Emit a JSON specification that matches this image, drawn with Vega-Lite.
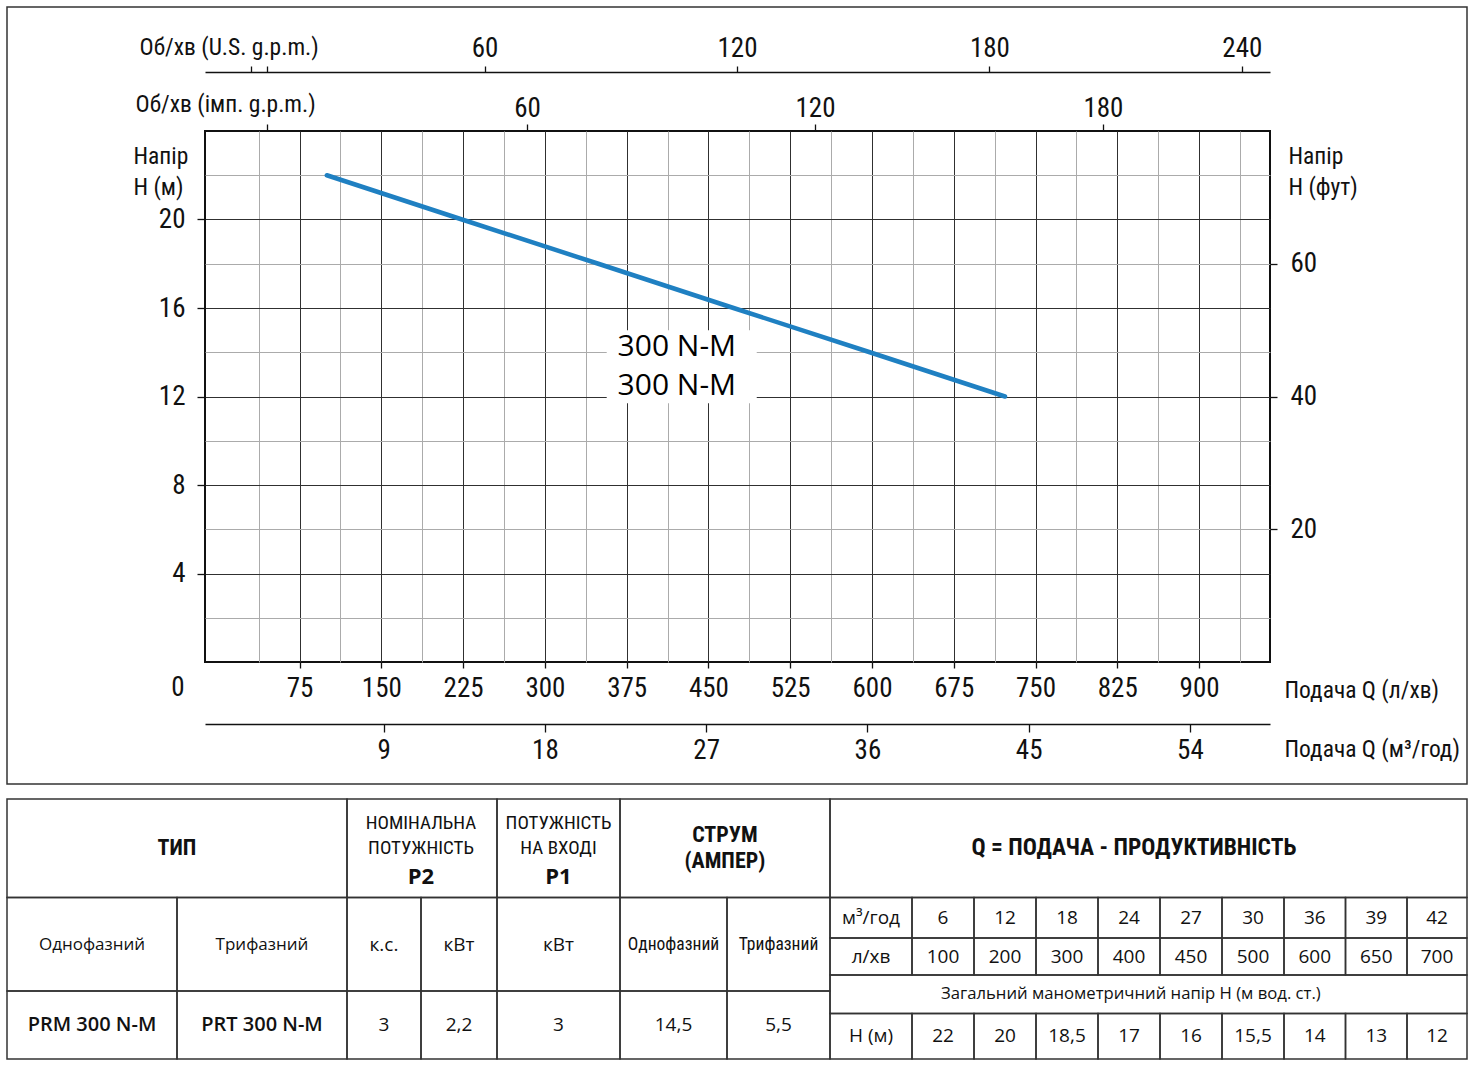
{
  "$schema": "https://vega.github.io/schema/vega-lite/v6.json",
  "width": 1065,
  "height": 531,
  "autosize": {"type": "none"},
  "padding": {"left": 205, "top": 131, "right": 204, "bottom": 405},
  "background": "white",
  "datasets": {
    "curve": [
      {"lpm": 100, "H": 22, "gpm_us": 26.4, "gpm_imp": 22.0, "m3h": 6.0, "H_ft": 72.2},
      {"lpm": 224, "H": 20, "gpm_us": 59.2, "gpm_imp": 49.3, "m3h": 13.4, "H_ft": 65.6},
      {"lpm": 349, "H": 18, "gpm_us": 92.2, "gpm_imp": 76.8, "m3h": 20.9, "H_ft": 59.1},
      {"lpm": 473, "H": 16, "gpm_us": 125.0, "gpm_imp": 104.0, "m3h": 28.4, "H_ft": 52.5},
      {"lpm": 598, "H": 14, "gpm_us": 158.0, "gpm_imp": 131.5, "m3h": 35.9, "H_ft": 45.9},
      {"lpm": 722, "H": 12, "gpm_us": 190.8, "gpm_imp": 158.8, "m3h": 43.3, "H_ft": 39.4}
    ],
    "labels": [
      {"lpm": 421, "H": 14.24, "label": "300 N-M"},
      {"lpm": 421, "H": 12.48, "label": "300 N-M"}
    ],
    "cells": [
      {"c0": 0, "c1": 17, "r0": 0, "r1": 1},
      {"c0": 0, "c1": 2, "r0": 2, "r1": 3},
      {"c0": 2, "c1": 4, "r0": 2, "r1": 3},
      {"c0": 4, "c1": 5, "r0": 2, "r1": 3},
      {"c0": 5, "c1": 7, "r0": 2, "r1": 3},
      {"c0": 7, "c1": 17, "r0": 2, "r1": 3},
      {"c0": 0, "c1": 1, "r0": 3, "r1": 6},
      {"c0": 1, "c1": 2, "r0": 3, "r1": 6},
      {"c0": 2, "c1": 3, "r0": 3, "r1": 6},
      {"c0": 3, "c1": 4, "r0": 3, "r1": 6},
      {"c0": 4, "c1": 5, "r0": 3, "r1": 6},
      {"c0": 5, "c1": 6, "r0": 3, "r1": 6},
      {"c0": 6, "c1": 7, "r0": 3, "r1": 6},
      {"c0": 0, "c1": 1, "r0": 6, "r1": 8},
      {"c0": 1, "c1": 2, "r0": 6, "r1": 8},
      {"c0": 2, "c1": 3, "r0": 6, "r1": 8},
      {"c0": 3, "c1": 4, "r0": 6, "r1": 8},
      {"c0": 4, "c1": 5, "r0": 6, "r1": 8},
      {"c0": 5, "c1": 6, "r0": 6, "r1": 8},
      {"c0": 6, "c1": 7, "r0": 6, "r1": 8},
      {"c0": 7, "c1": 8, "r0": 3, "r1": 4},
      {"c0": 8, "c1": 9, "r0": 3, "r1": 4},
      {"c0": 9, "c1": 10, "r0": 3, "r1": 4},
      {"c0": 10, "c1": 11, "r0": 3, "r1": 4},
      {"c0": 11, "c1": 12, "r0": 3, "r1": 4},
      {"c0": 12, "c1": 13, "r0": 3, "r1": 4},
      {"c0": 13, "c1": 14, "r0": 3, "r1": 4},
      {"c0": 14, "c1": 15, "r0": 3, "r1": 4},
      {"c0": 15, "c1": 16, "r0": 3, "r1": 4},
      {"c0": 16, "c1": 17, "r0": 3, "r1": 4},
      {"c0": 7, "c1": 8, "r0": 4, "r1": 5},
      {"c0": 8, "c1": 9, "r0": 4, "r1": 5},
      {"c0": 9, "c1": 10, "r0": 4, "r1": 5},
      {"c0": 10, "c1": 11, "r0": 4, "r1": 5},
      {"c0": 11, "c1": 12, "r0": 4, "r1": 5},
      {"c0": 12, "c1": 13, "r0": 4, "r1": 5},
      {"c0": 13, "c1": 14, "r0": 4, "r1": 5},
      {"c0": 14, "c1": 15, "r0": 4, "r1": 5},
      {"c0": 15, "c1": 16, "r0": 4, "r1": 5},
      {"c0": 16, "c1": 17, "r0": 4, "r1": 5},
      {"c0": 7, "c1": 17, "r0": 5, "r1": 7},
      {"c0": 7, "c1": 8, "r0": 7, "r1": 8},
      {"c0": 8, "c1": 9, "r0": 7, "r1": 8},
      {"c0": 9, "c1": 10, "r0": 7, "r1": 8},
      {"c0": 10, "c1": 11, "r0": 7, "r1": 8},
      {"c0": 11, "c1": 12, "r0": 7, "r1": 8},
      {"c0": 12, "c1": 13, "r0": 7, "r1": 8},
      {"c0": 13, "c1": 14, "r0": 7, "r1": 8},
      {"c0": 14, "c1": 15, "r0": 7, "r1": 8},
      {"c0": 15, "c1": 16, "r0": 7, "r1": 8},
      {"c0": 16, "c1": 17, "r0": 7, "r1": 8}
    ],
    "texts": [
      {"cx": 1, "cy": 2.5, "t": "ТИП", "role": "hb"},
      {"cx": 3, "cy": 2.244, "t": "НОМІНАЛЬНА\nПОТУЖНІСТЬ", "role": "hs"},
      {"cx": 3, "cy": 2.79, "t": "P2", "role": "hp"},
      {"cx": 4.5, "cy": 2.244, "t": "ПОТУЖНІСТЬ\nНА ВХОДІ", "role": "hs"},
      {"cx": 4.5, "cy": 2.79, "t": "P1", "role": "hp"},
      {"cx": 5.98, "cy": 2.365, "t": "СТРУМ\n(АМПЕР)", "role": "hb"},
      {"cx": 11.58, "cy": 2.5, "t": "Q = ПОДАЧА - ПРОДУКТИВНІСТЬ", "role": "hq"},
      {"cx": 0.5, "cy": 4.19, "t": "Однофазний", "role": "sub"},
      {"cx": 1.5, "cy": 4.19, "t": "Трифазний", "role": "sub"},
      {"cx": 2.5, "cy": 4.19, "t": "к.с.", "role": "unit"},
      {"cx": 3.5, "cy": 4.19, "t": "кВт", "role": "unit"},
      {"cx": 4.5, "cy": 4.19, "t": "кВт", "role": "unit"},
      {"cx": 5.5, "cy": 4.19, "t": "Однофазний", "role": "subn"},
      {"cx": 6.5, "cy": 4.19, "t": "Трифазний", "role": "subn"},
      {"cx": 0.5, "cy": 7.25, "t": "PRM 300 N-M", "role": "model"},
      {"cx": 1.5, "cy": 7.25, "t": "PRT 300 N-M", "role": "model"},
      {"cx": 2.5, "cy": 7.25, "t": "3", "role": "val"},
      {"cx": 3.5, "cy": 7.25, "t": "2,2", "role": "val"},
      {"cx": 4.5, "cy": 7.25, "t": "3", "role": "val"},
      {"cx": 5.5, "cy": 7.25, "t": "14,5", "role": "val"},
      {"cx": 6.5, "cy": 7.25, "t": "5,5", "role": "val"},
      {"cx": 7.5, "cy": 3.5, "t": "м³/год", "role": "q"},
      {"cx": 8.5, "cy": 3.5, "t": "6", "role": "q"},
      {"cx": 9.5, "cy": 3.5, "t": "12", "role": "q"},
      {"cx": 10.5, "cy": 3.5, "t": "18", "role": "q"},
      {"cx": 11.5, "cy": 3.5, "t": "24", "role": "q"},
      {"cx": 12.5, "cy": 3.5, "t": "27", "role": "q"},
      {"cx": 13.5, "cy": 3.5, "t": "30", "role": "q"},
      {"cx": 14.5, "cy": 3.5, "t": "36", "role": "q"},
      {"cx": 15.5, "cy": 3.5, "t": "39", "role": "q"},
      {"cx": 16.5, "cy": 3.5, "t": "42", "role": "q"},
      {"cx": 7.5, "cy": 4.5, "t": "л/хв", "role": "q"},
      {"cx": 8.5, "cy": 4.5, "t": "100", "role": "q"},
      {"cx": 9.5, "cy": 4.5, "t": "200", "role": "q"},
      {"cx": 10.5, "cy": 4.5, "t": "300", "role": "q"},
      {"cx": 11.5, "cy": 4.5, "t": "400", "role": "q"},
      {"cx": 12.5, "cy": 4.5, "t": "450", "role": "q"},
      {"cx": 13.5, "cy": 4.5, "t": "500", "role": "q"},
      {"cx": 14.5, "cy": 4.5, "t": "600", "role": "q"},
      {"cx": 15.5, "cy": 4.5, "t": "650", "role": "q"},
      {"cx": 16.5, "cy": 4.5, "t": "700", "role": "q"},
      {"cx": 11.53, "cy": 6.15, "t": "Загальний манометричний напір Н (м вод. ст.)", "role": "qs"},
      {"cx": 7.5, "cy": 7.5, "t": "Н (м)", "role": "q"},
      {"cx": 8.5, "cy": 7.5, "t": "22", "role": "q"},
      {"cx": 9.5, "cy": 7.5, "t": "20", "role": "q"},
      {"cx": 10.5, "cy": 7.5, "t": "18,5", "role": "q"},
      {"cx": 11.5, "cy": 7.5, "t": "17", "role": "q"},
      {"cx": 12.5, "cy": 7.5, "t": "16", "role": "q"},
      {"cx": 13.5, "cy": 7.5, "t": "15,5", "role": "q"},
      {"cx": 14.5, "cy": 7.5, "t": "14", "role": "q"},
      {"cx": 15.5, "cy": 7.5, "t": "13", "role": "q"},
      {"cx": 16.5, "cy": 7.5, "t": "12", "role": "q"}
    ]
  },
  "layer": [
    {
      "data": {"name": "curve"},
      "mark": {"type": "line", "opacity": 0},
      "encoding": {
        "x": {"field": "lpm", "type": "quantitative", "scale": {"domain": [-11.74, 965.06], "nice": false, "zero": false},
          "axis": {"orient": "bottom", "values": [37.5, 112.5, 187.5, 262.5, 337.5, 412.5, 487.5, 562.5, 637.5, 712.5, 787.5, 862.5, 937.5], "grid": true, "gridColor": "#ababab", "labels": false, "ticks": false, "domain": false, "title": null}},
        "y": {"field": "H", "type": "quantitative", "scale": {"domain": [0, 24], "nice": false, "zero": false},
          "axis": {"orient": "left", "values": [2, 6, 10, 14, 18, 22], "grid": true, "gridColor": "#ababab", "labels": false, "ticks": false, "domain": false, "title": null}}
      }
    },
    {
      "data": {"values": [{}]},
      "mark": {"type": "rect", "fill": "white", "stroke": null},
      "encoding": {
        "x": {"datum": 356.7, "type": "quantitative", "scale": {"domain": [-11.74, 965.06], "nice": false, "zero": false}, "axis": null},
        "x2": {"datum": 494.3},
        "y": {"datum": 15.0, "type": "quantitative", "scale": {"domain": [0, 24], "nice": false, "zero": false}, "axis": null},
        "y2": {"datum": 11.7}
      }
    },
    {
      "data": {"name": "labels"},
      "mark": {"type": "text", "font": "Open Sans", "fontSize": 30, "fontWeight": 500, "color": "#000", "baseline": "middle", "align": "center"},
      "encoding": {
        "x": {"field": "lpm", "type": "quantitative", "scale": {"domain": [-11.74, 965.06], "nice": false, "zero": false}, "axis": null},
        "y": {"field": "H", "type": "quantitative", "scale": {"domain": [0, 24], "nice": false, "zero": false}, "axis": null},
        "text": {"field": "label"}
      }
    },
    {
      "data": {"values": [{}]},
      "mark": {"type": "text", "text": "0", "font": "Liberation Sans Narrow, Roboto Condensed, DejaVu Sans Condensed, Liberation Sans", "fontSize": 27, "color": "#111", "baseline": "middle", "align": "center", "dx": -27, "dy": 26},
      "encoding": {
        "x": {"datum": -11.74, "type": "quantitative", "scale": {"domain": [-11.74, 965.06], "nice": false, "zero": false}, "axis": null},
        "y": {"datum": 0, "type": "quantitative", "scale": {"domain": [0, 24], "nice": false, "zero": false}, "axis": null}
      }
    },
    {
      "data": {"name": "curve"},
      "mark": {"type": "rule", "opacity": 0},
      "encoding": {
        "x": {"field": "gpm_us", "type": "quantitative", "scale": {"domain": [-6.47, 246.7], "nice": false, "zero": false},
          "axis": {"orient": "top", "offset": 59, "values": [4.47, 8.27, 60, 120, 180, 240], "labelExpr": "datum.value < 30 ? '' : datum.label", "grid": false, "domain": true, "tickSize": 6, "labelPadding": 10, "labelBaseline": "alphabetic",
            "title": "Об/хв (U.S. g.p.m.)", "titleX": -66, "titleY": -24.5, "titleAlign": "left", "titleBaseline": "middle", "titleAngle": 0}}
      }
    },
    {
      "data": {"name": "curve"},
      "mark": {"type": "rule", "opacity": 0},
      "encoding": {
        "x": {"field": "gpm_imp", "type": "quantitative", "scale": {"domain": [-7.08, 214.8], "nice": false, "zero": false},
          "axis": {"orient": "top", "offset": 0, "values": [5.83, 60, 120, 180], "labelExpr": "datum.value < 30 ? '' : datum.label", "grid": false, "domain": false, "tickSize": 7, "labelPadding": 8, "labelBaseline": "alphabetic",
            "title": "Об/хв (імп. g.p.m.)", "titleX": -70, "titleY": -26.5, "titleAlign": "left", "titleBaseline": "middle", "titleAngle": 0}}
      }
    },
    {
      "data": {"name": "curve"},
      "mark": {"type": "rule", "opacity": 0},
      "encoding": {
        "x": {"field": "m3h", "type": "quantitative", "scale": {"domain": [-0.97, 58.47], "nice": false, "zero": false},
          "axis": {"orient": "bottom", "offset": 62, "values": [9, 18, 27, 36, 45, 54], "grid": false, "domain": true, "tickSize": 8, "labelPadding": 26, "labelBaseline": "alphabetic",
            "title": "Подача Q (м³/год)", "titleX": 1079, "titleY": 25.5, "titleAlign": "left", "titleBaseline": "middle", "titleAngle": 0}}
      }
    },
    {
      "data": {"name": "curve"},
      "mark": {"type": "rule", "opacity": 0},
      "encoding": {
        "y": {"field": "H_ft", "type": "quantitative", "scale": {"domain": [0, 80], "nice": false, "zero": false},
          "axis": {"orient": "right", "values": [20, 40, 60], "grid": false, "domain": false, "tickSize": 7, "labelPadding": 13, "labelBaseline": "middle",
            "title": ["Напір", "Н (фут)"], "titleX": 18, "titleY": 13, "titleAlign": "left", "titleBaseline": "top", "titleAngle": 0, "titleLineHeight": 31}}
      }
    },
    {
      "data": {"name": "curve"},
      "mark": {"type": "line", "color": "#1f80c2", "strokeWidth": 4.5, "strokeCap": "round"},
      "encoding": {
        "x": {"field": "lpm", "type": "quantitative", "scale": {"domain": [-11.74, 965.06], "nice": false, "zero": false},
          "axis": {"orient": "bottom", "values": [75, 150, 225, 300, 375, 450, 525, 600, 675, 750, 825, 900], "grid": true, "gridColor": "#303030", "domain": false, "tickSize": 6, "labelPadding": 28, "labelBaseline": "alphabetic",
            "title": "Подача Q (л/хв)", "titleX": 1079, "titleY": 28.5, "titleAlign": "left", "titleBaseline": "middle", "titleAngle": 0}},
        "y": {"field": "H", "type": "quantitative", "scale": {"domain": [0, 24], "nice": false, "zero": false},
          "axis": {"orient": "left", "values": [4, 8, 12, 16, 20], "grid": true, "gridColor": "#303030", "domain": false, "tickSize": 8, "labelPadding": 12, "labelBaseline": "middle",
            "title": ["Напір", "Н (м)"], "titleX": -72, "titleY": 13, "titleAlign": "left", "titleBaseline": "top", "titleAngle": 0, "titleLineHeight": 31}}
      }
    },
    {
      "data": {"name": "cells"},
      "mark": {"type": "rect", "fill": "transparent", "stroke": "#333", "strokeWidth": 1.5},
      "encoding": {
        "x": {"field": "c0", "type": "quantitative", "scale": {"domain": [0,1,2,3,4,5,6,7,8,9,10,11,12,13,14,15,16,17], "range": [-198,-28,142,216,292,415,522,625,707,769,831,893,955,1017,1079,1140.5,1202,1262], "nice": false, "zero": false}, "axis": null},
        "x2": {"field": "c1"},
        "y": {"field": "r0", "type": "quantitative", "scale": {"domain": [0,1,2,3,4,5,6,7,8], "range": [-124,653,668,766.5,807,844,860,882.5,928], "nice": false, "zero": false}, "axis": null},
        "y2": {"field": "r1"}
      }
    },
    {
      "data": {"name": "texts"},
      "transform": [{"filter": "datum.role === 'hb'"}],
      "mark": {"type": "text", "font": "Liberation Sans Narrow, Roboto Condensed, DejaVu Sans Condensed, Liberation Sans", "fontWeight": "bold", "fontSize": 22, "lineBreak": "\n", "lineHeight": 26, "baseline": "middle", "align": "center", "color": "#111"},
      "encoding": {
        "x": {"field": "cx", "type": "quantitative", "scale": {"domain": [0,1,2,3,4,5,6,7,8,9,10,11,12,13,14,15,16,17], "range": [-198,-28,142,216,292,415,522,625,707,769,831,893,955,1017,1079,1140.5,1202,1262], "nice": false, "zero": false}, "axis": null},
        "y": {"field": "cy", "type": "quantitative", "scale": {"domain": [0,1,2,3,4,5,6,7,8], "range": [-124,653,668,766.5,807,844,860,882.5,928], "nice": false, "zero": false}, "axis": null},
        "text": {"field": "t"}
      }
    },
    {
      "data": {"name": "texts"},
      "transform": [{"filter": "datum.role === 'hq'"}],
      "mark": {"type": "text", "font": "Liberation Sans Narrow, Roboto Condensed, DejaVu Sans Condensed, Liberation Sans", "fontWeight": "bold", "fontSize": 23.5, "baseline": "middle", "align": "center", "color": "#111"},
      "encoding": {
        "x": {"field": "cx", "type": "quantitative", "scale": {"domain": [0,1,2,3,4,5,6,7,8,9,10,11,12,13,14,15,16,17], "range": [-198,-28,142,216,292,415,522,625,707,769,831,893,955,1017,1079,1140.5,1202,1262], "nice": false, "zero": false}, "axis": null},
        "y": {"field": "cy", "type": "quantitative", "scale": {"domain": [0,1,2,3,4,5,6,7,8], "range": [-124,653,668,766.5,807,844,860,882.5,928], "nice": false, "zero": false}, "axis": null},
        "text": {"field": "t"}
      }
    },
    {
      "data": {"name": "texts"},
      "transform": [{"filter": "datum.role === 'hs'"}],
      "mark": {"type": "text", "font": "Liberation Sans Narrow, Roboto Condensed, DejaVu Sans Condensed, Liberation Sans", "fontSize": 19, "lineBreak": "\n", "lineHeight": 25, "baseline": "middle", "align": "center", "color": "#111"},
      "encoding": {
        "x": {"field": "cx", "type": "quantitative", "scale": {"domain": [0,1,2,3,4,5,6,7,8,9,10,11,12,13,14,15,16,17], "range": [-198,-28,142,216,292,415,522,625,707,769,831,893,955,1017,1079,1140.5,1202,1262], "nice": false, "zero": false}, "axis": null},
        "y": {"field": "cy", "type": "quantitative", "scale": {"domain": [0,1,2,3,4,5,6,7,8], "range": [-124,653,668,766.5,807,844,860,882.5,928], "nice": false, "zero": false}, "axis": null},
        "text": {"field": "t"}
      }
    },
    {
      "data": {"name": "texts"},
      "transform": [{"filter": "datum.role === 'subn'"}],
      "mark": {"type": "text", "font": "Liberation Sans Narrow, Roboto Condensed, DejaVu Sans Condensed, Liberation Sans", "fontSize": 17.5, "baseline": "middle", "align": "center", "color": "#111"},
      "encoding": {
        "x": {"field": "cx", "type": "quantitative", "scale": {"domain": [0,1,2,3,4,5,6,7,8,9,10,11,12,13,14,15,16,17], "range": [-198,-28,142,216,292,415,522,625,707,769,831,893,955,1017,1079,1140.5,1202,1262], "nice": false, "zero": false}, "axis": null},
        "y": {"field": "cy", "type": "quantitative", "scale": {"domain": [0,1,2,3,4,5,6,7,8], "range": [-124,653,668,766.5,807,844,860,882.5,928], "nice": false, "zero": false}, "axis": null},
        "text": {"field": "t"}
      }
    },
    {
      "data": {"name": "texts"},
      "transform": [{"filter": "datum.role === 'hp'"}],
      "mark": {"type": "text", "font": "Open Sans", "fontWeight": "bold", "fontSize": 22, "baseline": "middle", "align": "center", "color": "#111"},
      "encoding": {
        "x": {"field": "cx", "type": "quantitative", "scale": {"domain": [0,1,2,3,4,5,6,7,8,9,10,11,12,13,14,15,16,17], "range": [-198,-28,142,216,292,415,522,625,707,769,831,893,955,1017,1079,1140.5,1202,1262], "nice": false, "zero": false}, "axis": null},
        "y": {"field": "cy", "type": "quantitative", "scale": {"domain": [0,1,2,3,4,5,6,7,8], "range": [-124,653,668,766.5,807,844,860,882.5,928], "nice": false, "zero": false}, "axis": null},
        "text": {"field": "t"}
      }
    },
    {
      "data": {"name": "texts"},
      "transform": [{"filter": "datum.role === 'model'"}],
      "mark": {"type": "text", "font": "Open Sans", "fontWeight": 600, "fontSize": 20, "baseline": "middle", "align": "center", "color": "#111"},
      "encoding": {
        "x": {"field": "cx", "type": "quantitative", "scale": {"domain": [0,1,2,3,4,5,6,7,8,9,10,11,12,13,14,15,16,17], "range": [-198,-28,142,216,292,415,522,625,707,769,831,893,955,1017,1079,1140.5,1202,1262], "nice": false, "zero": false}, "axis": null},
        "y": {"field": "cy", "type": "quantitative", "scale": {"domain": [0,1,2,3,4,5,6,7,8], "range": [-124,653,668,766.5,807,844,860,882.5,928], "nice": false, "zero": false}, "axis": null},
        "text": {"field": "t"}
      }
    },
    {
      "data": {"name": "texts"},
      "transform": [{"filter": "datum.role === 'sub'"}],
      "mark": {"type": "text", "font": "Open Sans", "fontSize": 17, "baseline": "middle", "align": "center", "color": "#111"},
      "encoding": {
        "x": {"field": "cx", "type": "quantitative", "scale": {"domain": [0,1,2,3,4,5,6,7,8,9,10,11,12,13,14,15,16,17], "range": [-198,-28,142,216,292,415,522,625,707,769,831,893,955,1017,1079,1140.5,1202,1262], "nice": false, "zero": false}, "axis": null},
        "y": {"field": "cy", "type": "quantitative", "scale": {"domain": [0,1,2,3,4,5,6,7,8], "range": [-124,653,668,766.5,807,844,860,882.5,928], "nice": false, "zero": false}, "axis": null},
        "text": {"field": "t"}
      }
    },
    {
      "data": {"name": "texts"},
      "transform": [{"filter": "datum.role === 'unit' || datum.role === 'val' || datum.role === 'q'"}],
      "mark": {"type": "text", "font": "Open Sans", "fontSize": 19, "baseline": "middle", "align": "center", "color": "#111"},
      "encoding": {
        "x": {"field": "cx", "type": "quantitative", "scale": {"domain": [0,1,2,3,4,5,6,7,8,9,10,11,12,13,14,15,16,17], "range": [-198,-28,142,216,292,415,522,625,707,769,831,893,955,1017,1079,1140.5,1202,1262], "nice": false, "zero": false}, "axis": null},
        "y": {"field": "cy", "type": "quantitative", "scale": {"domain": [0,1,2,3,4,5,6,7,8], "range": [-124,653,668,766.5,807,844,860,882.5,928], "nice": false, "zero": false}, "axis": null},
        "text": {"field": "t"}
      }
    },
    {
      "data": {"name": "texts"},
      "transform": [{"filter": "datum.role === 'qs'"}],
      "mark": {"type": "text", "font": "Open Sans", "fontSize": 16.7, "baseline": "middle", "align": "center", "color": "#111"},
      "encoding": {
        "x": {"field": "cx", "type": "quantitative", "scale": {"domain": [0,1,2,3,4,5,6,7,8,9,10,11,12,13,14,15,16,17], "range": [-198,-28,142,216,292,415,522,625,707,769,831,893,955,1017,1079,1140.5,1202,1262], "nice": false, "zero": false}, "axis": null},
        "y": {"field": "cy", "type": "quantitative", "scale": {"domain": [0,1,2,3,4,5,6,7,8], "range": [-124,653,668,766.5,807,844,860,882.5,928], "nice": false, "zero": false}, "axis": null},
        "text": {"field": "t"}
      }
    }
  ],
  "resolve": {
    "scale": {"x": "independent", "y": "independent"},
    "axis": {"x": "independent", "y": "independent"}
  },
  "config": {
    "view": {"stroke": "#111", "strokeWidth": 2},
    "axis": {
      "labelFont": "Liberation Sans Narrow, Roboto Condensed, DejaVu Sans Condensed, Liberation Sans",
      "titleFont": "Liberation Sans Narrow, Roboto Condensed, DejaVu Sans Condensed, Liberation Sans",
      "labelFontSize": 27,
      "titleFontSize": 23.5,
      "titleFontWeight": "normal",
      "labelColor": "#111",
      "titleColor": "#111",
      "tickColor": "#111",
      "domainColor": "#111",
      "labelFlush": false,
      "labelOverlap": false,
      "tickWidth": 1.3,
      "domainWidth": 1.5,
      "gridWidth": 1
    }
  }
}
